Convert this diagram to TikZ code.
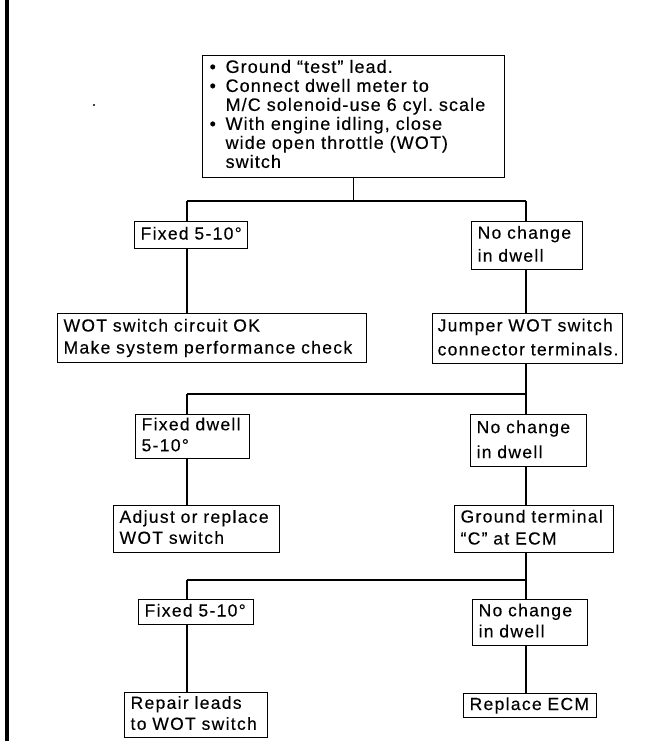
\documentclass[tikz,border=0pt]{standalone}
\usepackage{fontspec}
\setmainfont{Liberation Sans}[LetterSpace=7.5, FakeBold=0.3]
% one block of lines that never break
\newcommand\lines[1]{\begin{tabular}{@{}l@{}}#1\end{tabular}}
\begin{document}
\frenchspacing
\begin{tikzpicture}[x=1pt, y=-1pt,
  box/.style={draw, line width=1.2pt, anchor=north west, inner xsep=6pt, inner ysep=1pt,
    align=left, font=\fontsize{17.5}{22}\selectfont},
  link/.style={line width=1.1pt}]
\useasboundingbox (0,0) rectangle (645,741);

% binding edge at the left
\draw[line width=4pt] (7,0) -- (7,741);
\fill (94,105) circle (1.2pt);

% first test
\node[box, inner xsep=7pt, minimum width=302pt, minimum height=122pt, text width=288pt,
      font=\fontsize{18}{19}\selectfont\addfontfeature{LetterSpace=6}] (top) at (202,55)
  {\begin{tabular}{@{}p{16pt}@{}l@{}}
    • & Ground “test” lead.\\
    • & Connect dwell meter to\\
      & M/C solenoid-use 6 cyl. scale\\
    • & With engine idling, close\\
      & wide open throttle (WOT)\\
      & switch
   \end{tabular}};

% branch points
\coordinate (s1L) at (187,201);
\coordinate (s1R) at (526,201);
\coordinate (s2L) at (187,394);
\coordinate (s2R) at (526,394);
\coordinate (s3L) at (187,580);
\coordinate (s3R) at (526,580);

% first branch
\node[box, minimum width=113pt, minimum height=27pt, text width=101pt] (a1) at (134,221)
  {\lines{Fixed 5-10°}};
\node[box, minimum width=111pt, minimum height=46pt, text width=99pt,
      font=\fontsize{17.5}{23}\selectfont] (b1) at (471,221)
  {\lines{No change\\in dwell}};
\node[box, minimum width=309pt, minimum height=49pt, text width=297pt] (a2) at (57,313)
  {\lines{WOT switch circuit OK\\Make system performance check}};
\node[box, inner xsep=5pt, minimum width=190pt, minimum height=49pt, text width=180pt,
      font=\fontsize{17.5}{24}\selectfont] (b2) at (432,313)
  {\lines{Jumper WOT switch\\connector terminals.}};

% second branch
\node[box, minimum width=114pt, minimum height=44pt, text width=102pt,
      font=\fontsize{17.5}{21}\selectfont] (a3) at (135,414)
  {\lines{Fixed dwell\\5-10°}};
\node[box, minimum width=116pt, minimum height=45pt, text width=104pt,
      font=\fontsize{17.5}{25}\selectfont] (b3) at (470,414)
  {\lines{No change\\in dwell}};
\node[box, minimum width=166pt, minimum height=47pt, text width=154pt,
      font=\fontsize{17.5}{21}\selectfont] (a4) at (113,505)
  {\lines{Adjust or replace\\WOT switch}};
\node[box, minimum width=159pt, minimum height=47pt, text width=147pt] (b4) at (454,505)
  {\lines{Ground terminal\\“C” at ECM}};

% third branch
\node[box, minimum width=115pt, minimum height=25pt, text width=103pt] (a5) at (138,599)
  {\lines{Fixed 5-10°}};
\node[box, minimum width=115pt, minimum height=46pt, text width=103pt,
      font=\fontsize{17.5}{21}\selectfont] (b5) at (472,599)
  {\lines{No change\\in dwell}};
\node[box, minimum width=143pt, minimum height=45pt, text width=131pt,
      font=\fontsize{17.5}{21}\selectfont] (a6) at (124,692)
  {\lines{Repair leads\\to WOT switch}};
\node[box, minimum width=133pt, minimum height=22pt, text width=121pt] (b6) at (463,693)
  {\lines{Replace ECM}};

% connectors
\draw[link] (top.south) -- (top.south |- s1L);
\draw[link] (s1L) -- (s1R);
\draw[link] (s1L) -- (s1L |- a1.north);
\draw[link] (s1R) -- (s1R |- b1.north);
\draw[link] (a1.south -| s1L) -- (a2.north -| s1L);
\draw[link] (b1.south -| s1R) -- (b2.north -| s1R);

\draw[link] (b2.south -| s2R) -- (s2R);
\draw[link] (s2L) -- (s2R);
\draw[link] (s2L) -- (s2L |- a3.north);
\draw[link] (s2R) -- (s2R |- b3.north);
\draw[link] (a3.south -| s2L) -- (a4.north -| s2L);
\draw[link] (b3.south -| s2R) -- (b4.north -| s2R);

\draw[link] (b4.south -| s3R) -- (s3R);
\draw[link] (s3L) -- (s3R);
\draw[link] (s3L) -- (s3L |- a5.north);
\draw[link] (s3R) -- (s3R |- b5.north);
\draw[link] (a5.south -| s3L) -- (a6.north -| s3L);
\draw[link] (b5.south -| s3R) -- (b6.north -| s3R);
\end{tikzpicture}
\end{document}
